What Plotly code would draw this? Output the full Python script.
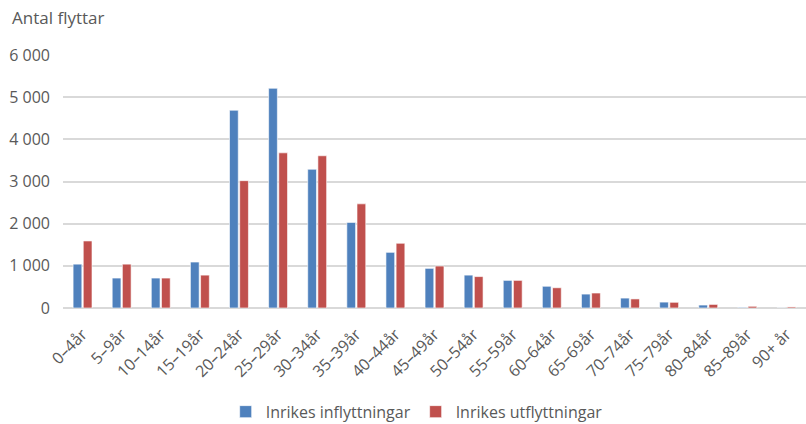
import plotly.graph_objects as go

# age groups on the x axis
age_groups = ["0–4år", "5–9år", "10–14år", "15–19år", "20–24år", "25–29år", "30–34år",
              "35–39år", "40–44år", "45–49år", "50–54år", "55–59år", "60–64år", "65–69år",
              "70–74år", "75–79år", "80–84år", "85–89år", "90+ år"]

# domestic moves
inflyttningar = [1040, 710, 710, 1090, 4690, 5210, 3290, 2030, 1320, 940, 780, 655,
                 515, 330, 235, 140, 70, 15, 3]
utflyttningar = [1590, 1040, 710, 780, 3020, 3680, 3610, 2470, 1535, 995, 745, 655,
                 480, 355, 215, 135, 85, 40, 25]

y_ticks = [0, 1000, 2000, 3000, 4000, 5000, 6000]

FONT = "Open Sans"
GREY = "#595959"

fig = go.Figure()

fig.add_trace(go.Bar(
    x=age_groups,
    y=inflyttningar,
    name="Inrikes inflyttningar",
    marker=dict(color="#4F81BD", line=dict(color="white", width=0.6))
))

fig.add_trace(go.Bar(
    x=age_groups,
    y=utflyttningar,
    name="Inrikes utflyttningar",
    marker=dict(color="#C0504D", line=dict(color="white", width=0.6))
))

fig.update_layout(
    width=806,
    height=424,
    barmode="group",
    bargap=0.48,
    bargroupgap=0.14,
    separators=", ",
    plot_bgcolor="white",
    paper_bgcolor="white",
    font=dict(family=FONT, size=16, color=GREY),
    margin=dict(l=63, r=0, t=55, b=116, autoexpand=False),
    title=dict(text="Antal flyttar", xref="container", yref="container",
               x=12 / 806, xanchor="left", y=1 - 18 / 424, yanchor="middle",
               font=dict(size=17, color=GREY)),
    showlegend=True,
    legend=dict(orientation="h", x=0.476, xref="paper", xanchor="center",
                y=-0.41, yanchor="middle", font=dict(size=16),
                itemwidth=30, traceorder="normal"),
)

fig.update_yaxes(
    range=[0, 6000],
    tickvals=y_ticks,
    tickformat=",d",
    showgrid=True,
    gridcolor="#D9D9D9",
    gridwidth=2,
    zeroline=True,
    zerolinecolor="#D9D9D9",
    zerolinewidth=2,
    ticks="",
    ticklabelstandoff=12,
    tickfont=dict(size=16),
    automargin=False
)

fig.update_xaxes(
    tickangle=-45,
    ticks="",
    showline=False,
    tickfont=dict(size=16),
    ticklabelstandoff=13,
    automargin=False
)

# page body has a default 8px margin, drop it so the figure sits at 0,0
fig.write_html("out.html", config={"displayModeBar": False},
               post_script="document.body.style.margin='0';")
